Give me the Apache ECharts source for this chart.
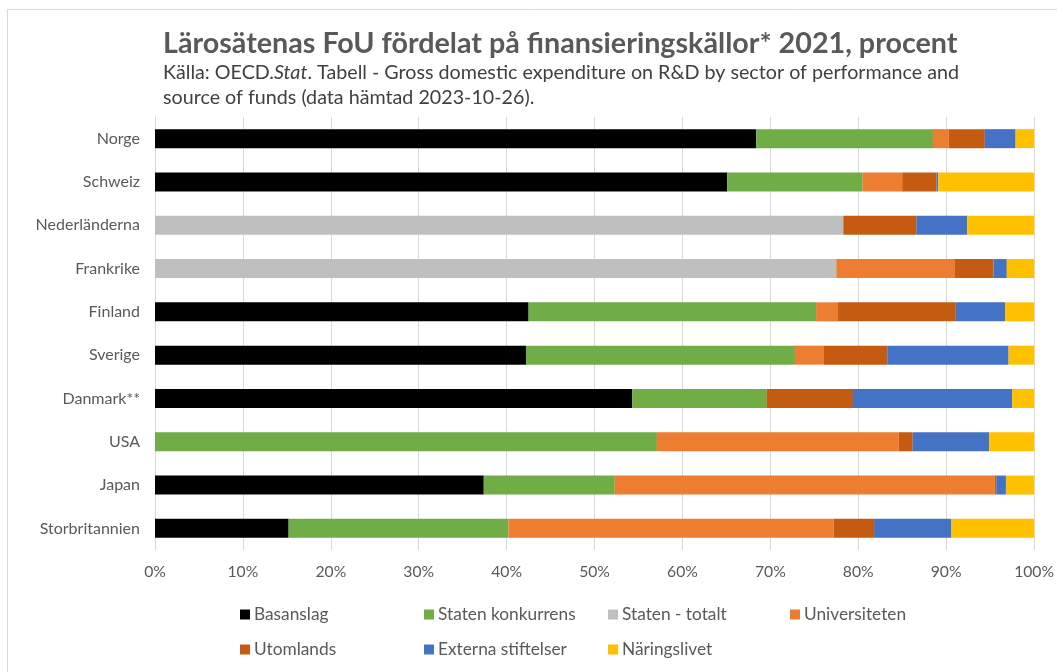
<!DOCTYPE html>
<html>
<head>
<meta charset="utf-8">
<script src="https://cdn.jsdelivr.net/npm/echarts@6/dist/echarts.min.js"></script>
<style>
  html, body { margin: 0; padding: 0; background: #fff; }
  #chart { width: 1057px; height: 672px; }
</style>
</head>
<body>
<div id="chart"></div>
<script>
const FONT = 'Lato, Carlito, "Open Sans", sans-serif'

const countries = ['Norge', 'Schweiz', 'Nederländerna', 'Frankrike', 'Finland', 'Sverige', 'Danmark**', 'USA', 'Japan', 'Storbritannien']
const xTicks = [0, 10, 20, 30, 40, 50, 60, 70, 80, 90, 100]

// andelar i procent, samma ordning som countries
const basanslag = [68.4, 65.1, 0, 0, 42.5, 42.2, 54.3, 0, 37.4, 15.2]
const statenKonkurrens = [20.1, 15.4, 0, 0, 32.7, 30.6, 15.3, 57.1, 14.9, 25.0]
const statenTotalt = [0, 0, 78.3, 77.5, 0, 0, 0, 0, 0, 0]
const universiteten = [1.8, 4.5, 0, 13.5, 2.5, 3.3, 0, 27.5, 43.2, 37.0]
const utomlands = [4.1, 3.9, 8.3, 4.4, 13.4, 7.2, 9.8, 1.6, 0.2, 4.6]
const externaStiftelser = [3.5, 0.2, 5.8, 1.5, 5.6, 13.8, 18.1, 8.7, 1.1, 8.8]
const naringslivet = [2.1, 10.9, 7.6, 3.1, 3.3, 2.9, 2.5, 5.1, 3.2, 9.4]

const seriesDef = [
  ['Basanslag', basanslag, '#000000'],
  ['Staten konkurrens', statenKonkurrens, '#70AD47'],
  ['Staten - totalt', statenTotalt, '#BFBFBF'],
  ['Universiteten', universiteten, '#ED7D31'],
  ['Utomlands', utomlands, '#C55A11'],
  ['Externa stiftelser', externaStiftelser, '#4472C4'],
  ['Näringslivet', naringslivet, '#FFC000']
]

// legend placed like Excel's grid: 4 columns, 2 rows
const legendPos = [[240, 606], [424, 606], [608, 606], [790, 606], [240, 641], [424, 641], [608, 641]]
const legends = seriesDef.map((s, i) => ({
  data: [s[0]],
  left: legendPos[i][0],
  top: legendPos[i][1],
  icon: 'rect',
  itemWidth: 10,
  itemHeight: 10,
  itemGap: 0,
  padding: 0,
  selectedMode: false,
  textStyle: { fontFamily: FONT, fontSize: 17.3, color: '#595959', padding: [0, 0, 0, -1] }
}))

const chart = echarts.init(document.getElementById('chart'))
chart.setOption({
  animation: false,
  backgroundColor: '#fff',
  title: {
    text: 'Lärosätenas FoU fördelat på finansieringskällor* 2021, procent',
    subtext: 'Källa: OECD.{i|Stat}. Tabell - Gross domestic expenditure on R&D by sector of performance and\nsource of funds (data hämtad 2023-10-26).',
    left: 158,
    top: 24,
    itemGap: 2,
    textStyle: { fontFamily: FONT, fontSize: 28.7, fontWeight: 'bold', color: '#595959' },
    subtextStyle: {
      fontFamily: FONT, fontSize: 19.7, color: '#404040', lineHeight: 25,
      rich: { i: { fontFamily: FONT, fontSize: 19.7, fontStyle: 'italic', color: '#404040' } }
    }
  },
  graphic: [{
    type: 'rect',
    shape: { x: 7.5, y: 9.5, width: 1060, height: 680 },
    style: { fill: 'none', stroke: '#D9D9D9', lineWidth: 1 },
    silent: true
  }],
  legend: legends,
  grid: { left: 155, right: 22, top: 117, bottom: 122 },
  xAxis: {
    type: 'value',
    min: 0,
    max: 100,
    interval: 10,
    axisLine: { show: false },
    axisTick: { show: false },
    splitLine: { lineStyle: { color: '#D9D9D9', width: 1 } },
    axisLabel: {
      fontFamily: FONT, fontSize: 15.7, color: '#595959', margin: 14,
      formatter: v => xTicks.includes(v) ? v + '%' : ''
    }
  },
  yAxis: {
    type: 'category',
    data: countries,
    inverse: true,
    axisTick: { show: false },
    axisLine: { lineStyle: { color: '#D9D9D9' } },
    axisLabel: { fontFamily: FONT, fontSize: 16, color: '#595959', margin: 15 }
  },
  series: seriesDef.map(s => ({
    name: s[0],
    type: 'bar',
    stack: 'total',
    barWidth: 19,
    data: s[1],
    itemStyle: { color: s[2] }
  }))
})
</script>
</body>
</html>
